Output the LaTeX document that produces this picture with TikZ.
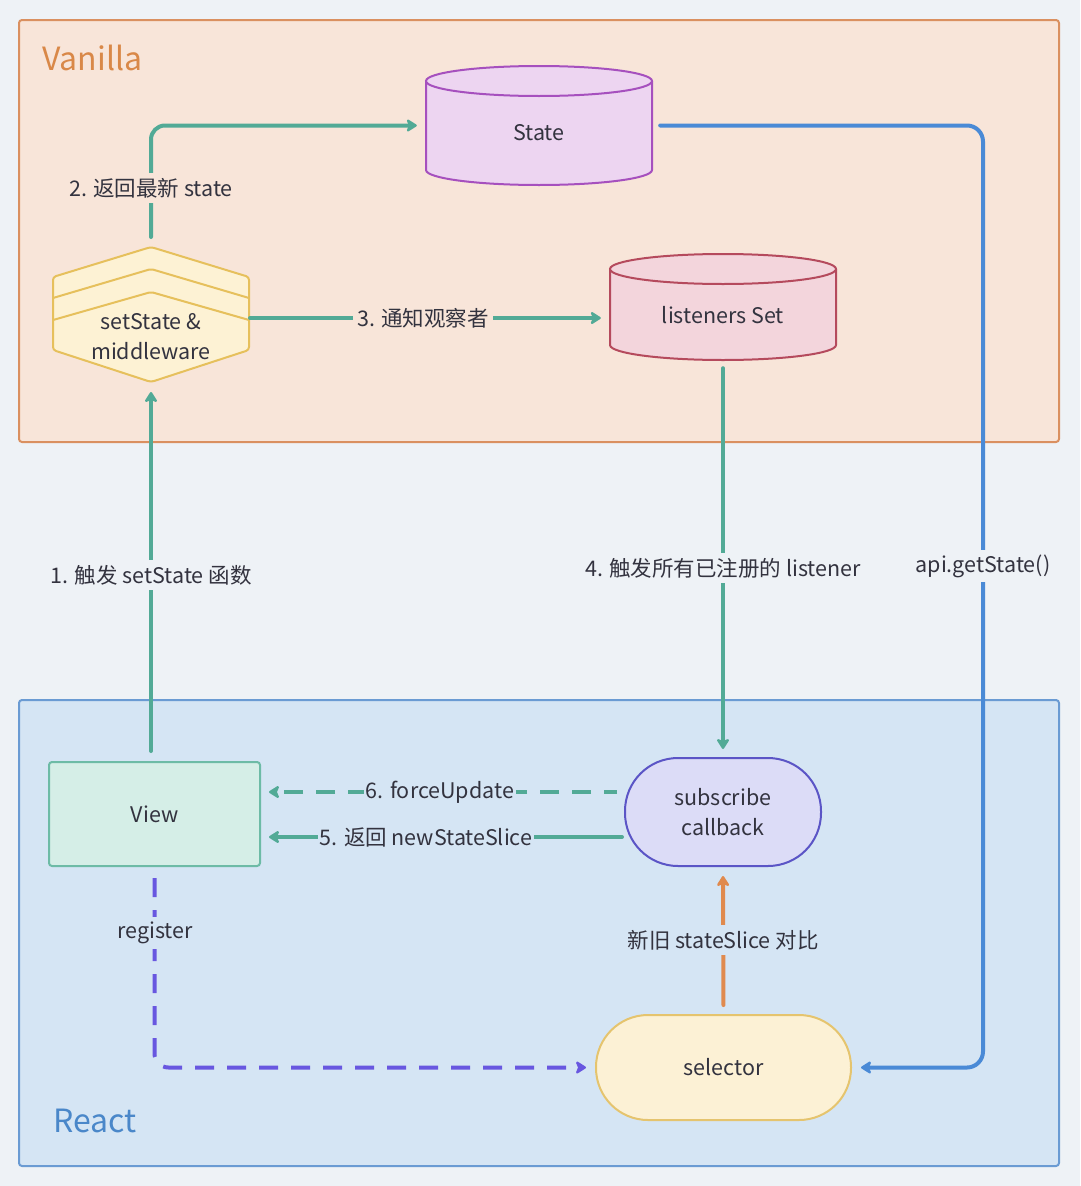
\documentclass[tikz,border=0pt]{standalone}
\usepackage{fontspec}
\setmainfont{Noto Sans CJK SC}
\usetikzlibrary{arrows.meta}
\definecolor{bg}{HTML}{EEF2F6}
\definecolor{vfill}{HTML}{F8E5D9}
\definecolor{vline}{HTML}{DA9060}
\definecolor{vtext}{HTML}{D98848}
\definecolor{rfill}{HTML}{D5E5F4}
\definecolor{rline}{HTML}{6A9BD3}
\definecolor{rtext}{HTML}{4A87C9}
\definecolor{tealA}{HTML}{52AA96}
\definecolor{blueA}{HTML}{4A8AD6}
\definecolor{orangeA}{HTML}{E08A4E}
\definecolor{purpA}{HTML}{6857E0}
\definecolor{txt}{HTML}{33333F}
\definecolor{stFill}{HTML}{EDD5F1}
\definecolor{stLine}{HTML}{A650BE}
\definecolor{liFill}{HTML}{F3D5DC}
\definecolor{liLine}{HTML}{B54A5D}
\definecolor{hxFill}{HTML}{FDF2D4}
\definecolor{hxLine}{HTML}{E6C05C}
\definecolor{viFill}{HTML}{D5EEE7}
\definecolor{viLine}{HTML}{6DBBA6}
\definecolor{suFill}{HTML}{DCDCF7}
\definecolor{suLine}{HTML}{5B55C6}
\definecolor{seFill}{HTML}{FCF1D5}
\definecolor{seLine}{HTML}{E5C46E}
\tikzset{
  arr/.style={line width=4pt, line cap=round, -{Stealth[length=12pt,width=15pt,inset=3pt,round]}},
  lbl/.style={inner xsep=4pt, inner ysep=5pt, text=txt},
  boxline/.style={line width=2pt},
  dashA/.style={dash pattern=on 19pt off 13pt, line cap=butt},
}
\begin{document}
\begin{tikzpicture}[x=1pt,y=-1pt, font=\fontsize{21.5}{30}\selectfont, text=txt]
\fill[bg] (0,0) rectangle (1080,1186);
\useasboundingbox (0,0) rectangle (1080,1186);

% containers
\node[draw=vline, fill=vfill, boxline, rounded corners=3pt, minimum width=1040pt, minimum height=422pt, anchor=north west, inner sep=0pt] (vanilla) at (18,19) {};
\node[draw=rline, fill=rfill, boxline, rounded corners=3pt, minimum width=1040pt, minimum height=466pt, anchor=north west, inner sep=0pt] (react) at (18,699) {};
\node[text=vtext, font=\fontsize{32}{36}\selectfont, anchor=west, inner sep=0pt] (vtitle) at (42,58) {Vanilla};
\node[text=rtext, font=\fontsize{32}{36}\selectfont, anchor=west, inner sep=0pt] (rtitle) at (53,1121) {React};

% State cylinder
\fill[stFill] (426,81) -- (426,170) arc[start angle=180, end angle=360, x radius=113pt, y radius=15pt] -- (652,81) -- cycle;
\draw[stLine, boxline] (426,81) -- (426,170) arc[start angle=180, end angle=360, x radius=113pt, y radius=15pt] -- (652,81);
\draw[stLine, boxline, fill=stFill] (539,81) ellipse[x radius=113pt, y radius=15pt];
\node[minimum width=226pt, minimum height=119pt, inner sep=0pt] (state) at (539,125.5) {};
\node (stateT) at (539,133) {State};

% listeners cylinder
\fill[liFill] (610,269) -- (610,345) arc[start angle=180, end angle=360, x radius=113pt, y radius=15pt] -- (836,269) -- cycle;
\draw[liLine, boxline] (610,269) -- (610,345) arc[start angle=180, end angle=360, x radius=113pt, y radius=15pt] -- (836,269);
\draw[liLine, boxline, fill=liFill] (723,269) ellipse[x radius=113pt, y radius=15pt];
\node[minimum width=226pt, minimum height=106pt, inner sep=0pt] (lis) at (723,307) {};
\node (lisT) at (723,315) {listeners Set};

% setState & middleware stack
\filldraw[fill=hxFill, draw=hxLine, boxline, rounded corners=3pt] (53,277) -- (151,247) -- (249,277) -- (249,350) -- (151,382) -- (53,350) -- cycle;
\draw[hxLine, boxline, rounded corners=2pt] (53,298) -- (151,269) -- (249,298);
\draw[hxLine, boxline, rounded corners=2pt] (53,320) -- (151,292) -- (249,320);
\node[align=center] (mw) at (151,337) {setState \&\\middleware};
\coordinate (mwT) at (151,237);
\coordinate (mwB) at (151,392);
\coordinate (mwR) at (250,318);

% React nodes
\node[draw=viLine, fill=viFill, boxline, rounded corners=3pt, minimum width=211pt, minimum height=104pt, inner sep=0pt] (view) at (154.5,814) {View};
\node[draw=suLine, fill=suFill, boxline, rounded corners=53pt, minimum width=196pt, minimum height=108pt, inner sep=0pt, align=center] (sub) at (723,812) {subscribe\\callback};
\node[draw=seLine, fill=seFill, boxline, rounded corners=52pt, minimum width=255pt, minimum height=105pt, inner sep=0pt] (sel) at (723.5,1067.5) {selector};

\coordinate (apiX) at (983,600);
\coordinate (f6) at (440,792);
\coordinate (f5) at (440,837);

% arrows
\draw[arr, tealA] (mwB |- view.north) ++(0,-10) -- (mwB);
\node[lbl, fill=bg] (l1) at (151,575) {1. 触发 setState 函数};

\draw[arr, tealA, rounded corners=14pt] (mwT) |- ([xshift=-9pt]state.west);
\node[lbl, fill=vfill] (l2) at (151,188) {2. 返回最新 state};

\draw[arr, tealA, shorten >=9pt] (mwR) -- (lis.west |- mwR);
\node[lbl, fill=vfill, inner xsep=4pt] (l3) at (423,318) {3. 通知观察者};

\draw[arr, tealA, shorten <=8pt, shorten >=8pt] (lis.south) -- (sub.north);
\node[lbl, fill=bg] (l4) at (723,568) {4. 触发所有已注册的 listener};

\draw[arr, blueA, rounded corners=16pt, shorten <=8pt, shorten >=9pt] (state.east) -| (apiX) |- (sel.east);
\node[lbl, fill=bg] (l7) at (983,566) {api.getState()};

\draw[arr, tealA, dashA, dash phase=6pt, shorten <=7pt, shorten >=8pt] (sub.west |- f6) -- (view.east |- f6);
\node[lbl, fill=rfill, inner xsep=2pt] (l6) at (440,792) {6. forceUpdate};

\draw[arr, tealA, shorten <=2pt, shorten >=8pt] (sub.west |- f5) -- (view.east |- f5);
\node[lbl, fill=rfill, inner xsep=2pt] (l5) at (426,837) {5. 返回 newStateSlice};

\draw[arr, orangeA, shorten <=9pt, shorten >=9pt] (sel.north) -- (sub.north |- sub.south);
\node[lbl, fill=rfill] (l8) at (723,940) {新旧 stateSlice 对比};

\draw[arr, purpA, dashA, rounded corners=14pt, shorten <=11pt, shorten >=9pt] (view.south) |- (sel.west);
\node[lbl, fill=rfill] (l9) at (155,933) {register};
\end{tikzpicture}
\end{document}
